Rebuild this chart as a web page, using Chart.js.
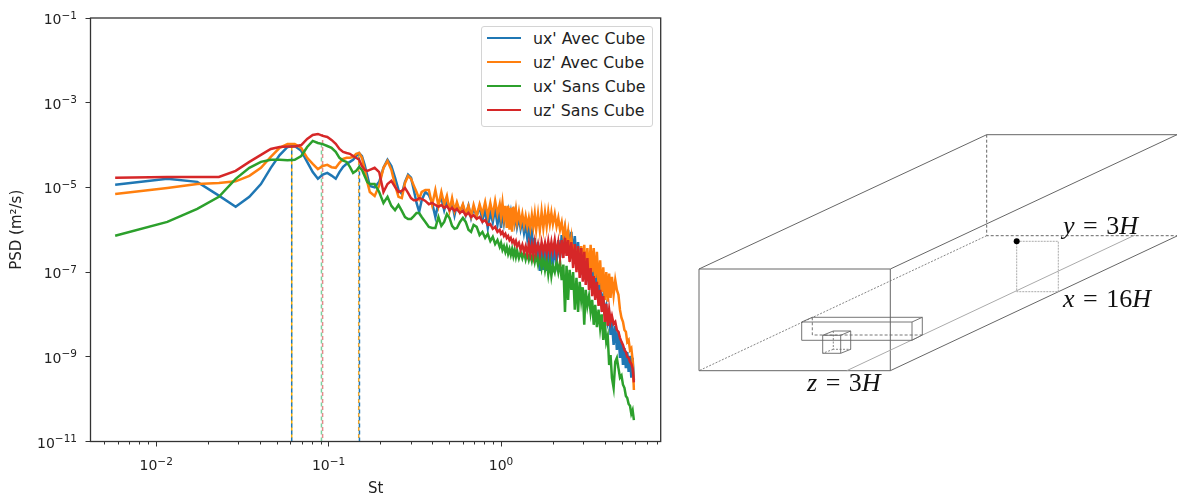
<!DOCTYPE html>
<html>
<head>
<meta charset="utf-8">
<title>PSD</title>
<script src="https://cdn.jsdelivr.net/npm/chart.js@4"></script>
<style>
  body { margin: 0; background: #fff; }
  #wrap { position: relative; width: 1177px; height: 495px; overflow: hidden; font-family: "DejaVu Sans", sans-serif; filter: blur(0.4px); }
  #psdChart { position: absolute; left: 0; top: 0; }
  #legend { position: absolute; left: 481px; top: 26px; width: 170px; height: 99px; border: 1px solid #d4d4d4; border-radius: 3px; background: #fff; }
  #legend div { position: absolute; left: 51px; font-size: 15.8px; line-height: 18px; color: #222; white-space: nowrap; }
  #legend i { position: absolute; left: 5px; width: 34px; height: 2px; }
  #schema { position: absolute; left: 0; top: 0; }
  #schema text { font-family: "Liberation Serif", serif; font-size: 26px; word-spacing: 2px; fill: #111; }
  #schema tspan.v { font-style: italic; }
</style>
</head>
<body>
<div id="wrap">
  <canvas id="psdChart" width="680" height="495"></canvas>
  <div id="legend"></div>
  <svg id="schema" width="1177" height="495" fill="none" stroke="#666" stroke-width="1">
    <!-- canal -->
    <path d="M699 269H890.3V370.7H699Z M699 269L986.7 134.7H1177 M890.3 269L1177 134.7 M890.3 370.7L1177 236"/>
    <path d="M986.7 134.7V235.7H1177" stroke-dasharray="3 2"/>
    <path d="M986.7 235.7L699 370.7" stroke-dasharray="2 1.5" stroke-width="0.8"/>
    <path d="M846.7 370.7L1135 235" stroke="#aaa"/>
    <!-- plan de mesure -->
    <path d="M1016.7 241.3H1058.3V291.7H1016.7Z" stroke="#aaa" stroke-dasharray="2 1"/>
    <circle cx="1016.7" cy="241.3" r="3" fill="#000" stroke="none"/>
    <!-- rangee de cubes -->
    <path d="M801.7 322H912V340.3H801.7Z M801.7 322L812.3 317.3H922.3V335L912 340.3 M912 322L922.3 317.3" stroke-width="0.9"/>
    <path d="M812.3 317.3V335H922.3" stroke-dasharray="3 2" stroke-width="0.9"/>
    <!-- cube -->
    <path d="M822.7 335.3H840.7V353.3H822.7Z M822.7 335.3L833.3 331H850.7V349.3L840.7 353.3 M840.7 335.3L850.7 331" stroke-width="0.9"/>
    <path d="M833.3 331V349.3H850.7 M833.3 349.3L822.7 353.3" stroke-dasharray="2 1.5" stroke-width="0.8"/>
    <text x="1063" y="234" stroke="none"><tspan class="v">y</tspan> = 3<tspan class="v">H</tspan></text>
    <text x="1063" y="307" stroke="none"><tspan class="v">x</tspan> = 16<tspan class="v">H</tspan></text>
    <text x="807" y="391" stroke="none"><tspan class="v">z</tspan> = 3<tspan class="v">H</tspan></text>
  </svg>
</div>
<script>
const seriesNames = ["ux' Avec Cube", "uz' Avec Cube", "ux' Sans Cube", "uz' Sans Cube"];
const seriesColors = ["#1f77b4", "#ff7f0e", "#2ca02c", "#d62728"];

const st = [
  .00578, .0116, .0173, .0231, .0289, .0347, .0405, .0462, .052, .0578,
  .0636, .0694, .0751, .0809, .0867, .0925, .0983, .104, .11, .1156,
  .1214, .1272, .1329, .1387, .1445, .1503, .1561, .1618, .1676, .1734,
  .185, .1965, .2081, .2196, .2312, .2428, .2543, .2659, .2774, .289,
  .3006, .3121, .3237, .3352, .3468, .3641, .3815, .3988, .4162, .4335,
  .4508, .4682, .4855, .5029, .5202, .5375, .5549, .578, .6011, .6242,
  .6474, .6705, .6936, .7225, .7514, .7803, .8092, .8381, .867, .8959,
  .9248, .9537, .9826, 1, 1.02, 1.04, 1.06, 1.08, 1.1, 1.12,
  1.14, 1.16, 1.18, 1.2, 1.22, 1.24, 1.27, 1.3, 1.33, 1.36,
  1.39, 1.42, 1.45, 1.48, 1.51, 1.54, 1.57, 1.6, 1.64, 1.68,
  1.72, 1.76, 1.8, 1.84, 1.88, 1.92, 1.96, 2, 2.05, 2.1,
  2.15, 2.2, 2.25, 2.3, 2.35, 2.4, 2.45, 2.5, 2.56, 2.62,
  2.68, 2.74, 2.8, 2.86, 2.92, 2.98, 3.04, 3.1, 3.17, 3.24,
  3.31, 3.38, 3.45, 3.52, 3.6, 3.68, 3.76, 3.84, 3.92, 4,
  4.08, 4.16, 4.24, 4.32, 4.4, 4.5, 4.6, 4.7, 4.8, 4.9,
  5, 5.1, 5.2, 5.3, 5.4, 5.5, 5.6, 5.7, 5.8, 5.9
];

const uxAvec = [
  1.16e-5, 1.59e-5, 1.35e-5, 6.4e-6, 3.5e-6, 6e-6, 1.2e-5, 2.9e-5, 5.8e-5, 9e-5,
  9.5e-5, 7.3e-5, 4e-5, 2.3e-5, 1.6e-5, 2e-5, 2.2e-5, 1.9e-5, 1.6e-5, 2.3e-5,
  3.05e-5, 3.6e-5, 4e-5, 4.5e-5, 5.5e-5, 6.5e-5, 5.5e-5, 3.4e-5, 1.9e-5, 1.08e-5,
  1e-5, 1.35e-5, 2.9e-5, 4.5e-5, 3.2e-5, 1.7e-5, 8.7e-6, 7e-6, 1.35e-5, 2e-5,
  1.7e-5, 8.7e-6, 4.3e-6, 2.65e-6, 5e-6, 7.8e-6, 6.6e-6, 4.3e-6, 2e-6, 4.3e-6,
  5.6e-6, 2.9e-6, 5e-6, 2.9e-6, 4.3e-6, 2.2e-6, 4e-6, 2.65e-6, 3.8e-6, 2.2e-6,
  3.7e-6, 1.9e-6, 3.2e-6, 2.1e-6, 3.5e-6, 1.7e-6, 2.9e-6, 1.1e-6, 2.65e-6, 1.5e-6,
  3.2e-6, 1.3e-6, 2.65e-6, 1.1e-6, 2.9e-6, 1.5e-6, 2.65e-6, 2.1e-6, 2.9e-6, 1.8e-6,
  2.65e-6, 1.6e-6, 2.4e-6, 1.45e-6, 2.4e-6, 1.2e-6, 2e-6, 1.05e-6, 1.7e-6, 8.4e-7,
  1.37e-6, 6.4e-7, 1.1e-6, 4.6e-7, 8.4e-7, 3e-7, 6.4e-7, 1.75e-7, 5.1e-7, 1.07e-7,
  4.4e-7, 1.13e-7, 3.35e-7, 1.07e-7, 3.35e-7, 1.25e-7, 3e-7, 1.5e-7, 3.35e-7, 1.75e-7,
  5.7e-7, 2.15e-7, 7.5e-7, 3.35e-7, 8.9e-7, 4.4e-7, 1e-6, 3.7e-7, 8.9e-7, 2.55e-7,
  7.1e-7, 1.75e-7, 5.1e-7, 1.25e-7, 3.7e-7, 8.6e-8, 3e-7, 6.5e-8, 2.15e-7, 5e-8,
  1.75e-7, 5e-8, 1.4e-7, 3.4e-8, 1e-7, 2.45e-8, 5.9e-8, 1.77e-8, 2.7e-8, 1.15e-8,
  1.6e-8, 6.7e-9, 9.7e-9, 3.3e-9, 6.7e-9, 1.9e-9, 5.4e-9, 1.45e-9, 3.9e-9, 9.4e-10,
  2.25e-9, 6.4e-10, 1.6e-9, 5.4e-10, 1.3e-9, 4.4e-10, 1.05e-9, 3.2e-10, 9.4e-10, 2.8e-10
];

const uzAvec = [
  7e-6, 9.7e-6, 1.2e-5, 1.27e-5, 1.39e-5, 1.87e-5, 2.9e-5, 5.25e-5, 8.6e-5, 1.06e-4,
  1.06e-4, 8.6e-5, 5e-5, 3.6e-5, 2.7e-5, 3.2e-5, 3.4e-5, 3e-5, 2.9e-5, 3.8e-5,
  4.7e-5, 5e-5, 5e-5, 5.25e-5, 6.2e-5, 6.5e-5, 5e-5, 2.6e-5, 1.35e-5, 7.8e-6,
  6.3e-6, 1.1e-5, 2.9e-5, 4.2e-5, 2.6e-5, 1.15e-5, 6e-6, 5.6e-6, 1.27e-5, 1.87e-5,
  1.6e-5, 1.1e-5, 7.8e-6, 5.35e-6, 7.8e-6, 8.7e-6, 8.7e-6, 3.85e-6, 8.7e-6, 3.65e-6,
  7.8e-6, 4e-6, 6.3e-6, 2.9e-6, 5.6e-6, 2.8e-6, 4.5e-6, 2.65e-6, 4e-6, 2.35e-6,
  3.65e-6, 2.1e-6, 3.85e-6, 2.1e-6, 4e-6, 2.35e-6, 4.5e-6, 2.1e-6, 4.3e-6, 2.2e-6,
  4.8e-6, 2.35e-6, 4e-6, 2.1e-6, 4.3e-6, 1.9e-6, 3.65e-6, 1.1e-6, 3.65e-6, 1e-6,
  3.3e-6, 9e-7, 3.5e-6, 1.7e-6, 2.9e-6, 1.5e-6, 2.65e-6, 1.37e-6, 2.35e-6, 1.3e-6,
  2.1e-6, 1.2e-6, 1.9e-6, 1.1e-6, 2.2e-6, 1.2e-6, 2.35e-6, 1e-6, 2.35e-6, 9.7e-7,
  2.65e-6, 1.1e-6, 2.5e-6, 1.2e-6, 2.65e-6, 1.37e-6, 2.5e-6, 1.37e-6, 2.35e-6, 1.2e-6,
  1.9e-6, 1e-6, 1.5e-6, 7.5e-7, 1.2e-6, 5.1e-7, 8.9e-7, 3e-7, 6.4e-7, 2.15e-7,
  4.6e-7, 1.13e-7, 3.7e-7, 1e-7, 4.1e-7, 9.5e-8, 4.4e-7, 9.5e-8, 3.7e-7, 8.6e-8,
  4.4e-7, 1e-7, 3.7e-7, 7.3e-8, 3e-7, 5e-8, 1.9e-7, 3.4e-8, 1.3e-7, 2.2e-8,
  1e-7, 2e-8, 9.2e-8, 2.45e-8, 7.7e-8, 2.9e-8, 6.5e-8, 3.8e-8, 2.9e-8, 1.28e-8,
  8.3e-9, 6.7e-9, 4.3e-9, 3.9e-9, 2.25e-9, 2.5e-9, 1.45e-9, 1.6e-9, 8.5e-10, 1.65e-10
];

const uxSans = [
  7.2e-7, 1.53e-6, 3.1e-6, 6e-6, 1.59e-5, 2.9e-5, 4e-5, 4.5e-5, 4.5e-5, 4.4e-5,
  4.5e-5, 5.5e-5, 9e-5, 1.25e-4, 1.12e-4, 1.05e-4, 9.5e-5, 8.6e-5, 6.9e-5, 5e-5,
  4.3e-5, 4e-5, 3.05e-5, 2.2e-5, 2.45e-5, 3.05e-5, 2.6e-5, 1.87e-5, 1.35e-5, 1.2e-5,
  1.2e-5, 7.8e-6, 4.3e-6, 6e-6, 3.65e-6, 2.9e-6, 3.85e-6, 2.8e-6, 2e-6, 1.8e-6,
  1.8e-6, 2.1e-6, 2.5e-6, 2.5e-6, 2e-6, 1.53e-6, 1.17e-6, 1.1e-6, 1.1e-6, 2e-6,
  1.24e-6, 1.53e-6, 2.35e-6, 1.9e-6, 1.24e-6, 1.05e-6, 1.1e-6, 1.53e-6, 1.9e-6, 1.53e-6,
  1e-6, 8.9e-7, 1.3e-6, 1.17e-6, 7.5e-7, 8.9e-7, 6.4e-7, 8e-7, 5.4e-7, 6.8e-7,
  4.6e-7, 5.7e-7, 3.95e-7, 4.9e-7, 3.35e-7, 4.1e-7, 3e-7, 3.95e-7, 2.7e-7, 3.5e-7,
  2.55e-7, 3.5e-7, 2.4e-7, 3.35e-7, 2.3e-7, 3.2e-7, 2.15e-7, 3e-7, 2.15e-7, 3e-7,
  2e-7, 2.85e-7, 1.95e-7, 2.7e-7, 1.85e-7, 2.7e-7, 1.75e-7, 2.55e-7, 1.5e-7, 2.4e-7,
  1.25e-7, 2.15e-7, 1.13e-7, 1.95e-7, 9e-8, 1.75e-7, 8.1e-8, 1.4e-7, 1e-7, 1.75e-7,
  1e-7, 1.75e-7, 6.5e-8, 1.5e-7, 1.15e-8, 1.4e-7, 2.2e-8, 1.13e-7, 3.8e-8, 1e-7,
  1.3e-8, 7.3e-8, 1.15e-8, 5.9e-8, 2.2e-8, 4.4e-8, 5.7e-9, 3.8e-8, 1.6e-8, 2.7e-8,
  1.15e-8, 2.2e-8, 5.7e-9, 1.68e-8, 5e-9, 1.3e-8, 4.8e-9, 1e-8, 2.5e-9, 6.7e-9,
  2.25e-9, 3.1e-9, 6.4e-10, 1.1e-9, 3.2e-10, 1.85e-10, 7.6e-10, 9.4e-10, 5.4e-10, 3.2e-10,
  3.6e-10, 2.2e-10, 1.85e-10, 1.19e-10, 1.07e-10, 7.7e-11, 7e-11, 4.5e-11, 5.5e-11, 3.2e-11
];

const uzSans = [
  1.68e-5, 1.75e-5, 1.77e-5, 1.77e-5, 2.45e-5, 4e-5, 5.85e-5, 8.1e-5, 9e-5, 9.2e-5,
  9.2e-5, 1e-4, 1.4e-4, 1.73e-4, 1.83e-4, 1.65e-4, 1.55e-4, 1.32e-4, 1.07e-4, 8.1e-5,
  6.9e-5, 6.5e-5, 6.2e-5, 5.5e-5, 5e-5, 4.5e-5, 3.2e-5, 2.6e-5, 2.45e-5, 2.6e-5,
  2.9e-5, 2.3e-5, 7.8e-6, 1.2e-5, 1.43e-5, 1.03e-5, 7.8e-6, 8.3e-6, 9.7e-6, 7.4e-6,
  5.6e-6, 5e-6, 5e-6, 5.6e-6, 5.35e-6, 4.8e-6, 4e-6, 4.3e-6, 3.85e-6, 3.5e-6,
  3.85e-6, 3.3e-6, 3.65e-6, 2.9e-6, 3.3e-6, 2.8e-6, 3.1e-6, 2.5e-6, 2.8e-6, 2.2e-6,
  2.5e-6, 2e-6, 2.2e-6, 1.8e-6, 2e-6, 1.53e-6, 1.7e-6, 1.3e-6, 1.37e-6, 1.05e-6,
  1.17e-6, 8.9e-7, 1e-6, 8e-7, 8.9e-7, 7.1e-7, 8e-7, 6.4e-7, 7.1e-7, 5.7e-7,
  6.4e-7, 5.1e-7, 5.7e-7, 4.6e-7, 5.4e-7, 4.1e-7, 4.9e-7, 3.35e-7, 4.4e-7, 3e-7,
  4.1e-7, 2.7e-7, 4.6e-7, 2.7e-7, 4.4e-7, 2.55e-7, 4.9e-7, 2.85e-7, 4.6e-7, 2.7e-7,
  5.1e-7, 3e-7, 4.9e-7, 2.85e-7, 5.4e-7, 3e-7, 5.1e-7, 3e-7, 5.7e-7, 2.7e-7,
  5.1e-7, 2.4e-7, 5.7e-7, 2.15e-7, 6.4e-7, 2.4e-7, 5.7e-7, 1.75e-7, 5.1e-7, 1.25e-7,
  4.6e-7, 1e-7, 4.1e-7, 7.3e-8, 3.7e-7, 5.9e-8, 3e-7, 5e-8, 2.15e-7, 3.8e-8,
  1.25e-7, 2.7e-8, 8.1e-8, 2.2e-8, 5.9e-8, 1.6e-8, 3.8e-8, 1.15e-8, 2.7e-8, 6.7e-9,
  1.77e-8, 5.4e-9, 1.28e-8, 6.7e-9, 9.2e-9, 6e-9, 6.7e-9, 4.3e-9, 3.9e-9, 2.8e-9,
  2.25e-9, 1.9e-9, 1.45e-9, 1.3e-9, 1e-9, 9.4e-10, 7.6e-10, 6.8e-10, 5.4e-10, 2.5e-10
];

const seriesValues = [uxAvec, uzAvec, uxSans, uzSans];

// traits verticaux aux St de pic
const peakSt = [.0611, .0611, .151, .1495, .0909, .0923];
const peakTop = [1.06e-4, 9.5e-5, 6.5e-5, 6.5e-5, 1.25e-4, 1.83e-4];
const peakColors = ["#1f77b4", "#ffb000", "#1f77b4", "#f5a623", "#7fcf9f", "#e58a8b"];

const xTicks = [1e-2, 1e-1, 1];
const xMinorTicks = [
  .005, .006, .007, .008, .009,
  .02, .03, .04, .05, .06, .07, .08, .09,
  .2, .3, .4, .5, .6, .7, .8, .9,
  2, 3, 4, 5, 6, 7, 8
];
const yTicks = [1e-1, 1e-3, 1e-5, 1e-7, 1e-9, 1e-11];

// "10" puis l'exposant plus petit et releve, comme mathtext
function drawPowerLabel(ctx, value, x, baseline, align) {
  const power = Math.round(Math.log10(value));
  const expText = power === 0 ? "0" : "\u2212" + Math.abs(power);
  ctx.font = '14px "DejaVu Sans"';
  const baseWidth = ctx.measureText("10").width;
  ctx.font = '10.5px "DejaVu Sans"';
  const expWidth = ctx.measureText(expText).width;
  const total = baseWidth + expWidth;
  const start = align === "right" ? x - total : x - total / 2;
  ctx.textAlign = "left";
  ctx.font = '14px "DejaVu Sans"';
  ctx.fillText("10", start, baseline);
  ctx.font = '10.5px "DejaVu Sans"';
  ctx.fillText(expText, start + baseWidth, baseline - 5.5);
}

// cadre complet, petits ticks et libelles en puissance, que Chart.js ne sait pas faire seul
const framePlugin = {
  id: "frame",
  afterDraw(chart) {
    const { ctx, chartArea, scales } = chart;
    ctx.save();
    ctx.strokeStyle = "#333";
    ctx.lineWidth = 1;
    xMinorTicks.forEach(v => {
      const px = Math.round(scales.x.getPixelForValue(v)) + 0.5;
      ctx.beginPath();
      ctx.moveTo(px, chartArea.bottom);
      ctx.lineTo(px, chartArea.bottom + 3);
      ctx.stroke();
    });
    ctx.lineWidth = 1.3;
    ctx.strokeRect(chartArea.left, chartArea.top, chartArea.width, chartArea.height);
    ctx.fillStyle = "#222";
    ctx.textBaseline = "alphabetic";
    xTicks.forEach(v => drawPowerLabel(ctx, v, scales.x.getPixelForValue(v), 470, "center"));
    yTicks.forEach(v => drawPowerLabel(ctx, v, 77, scales.y.getPixelForValue(v) + 6, "right"));
    ctx.restore();
  }
};

const datasets = seriesNames.map((name, i) => ({
  label: name,
  data: st.map((x, j) => ({ x: x, y: seriesValues[i][j] })),
  borderColor: seriesColors[i],
  borderWidth: 2.5,
  pointRadius: 0,
  tension: 0,
  order: 4 - i
}));

peakSt.forEach((x, i) => {
  datasets.push({
    label: "pic " + i,
    data: [{ x: x, y: 1e-11 }, { x: x, y: peakTop[i] }],
    borderColor: peakColors[i],
    borderWidth: 1.5,
    borderDash: [4, 3],
    borderDashOffset: i % 2 ? 3.5 : 0,
    pointRadius: 0,
    order: 5
  });
});

new Chart(document.getElementById("psdChart").getContext("2d"), {
  type: "line",
  data: { datasets: datasets },
  plugins: [framePlugin],
  options: {
    responsive: false,
    animation: false,
    layout: { padding: { top: 18, right: 19.3, left: 0, bottom: 0 } },
    plugins: { legend: { display: false }, tooltip: { enabled: false } },
    scales: {
      x: {
        type: "logarithmic",
        min: .004158,
        max: 8.44,
        afterFit: s => { s.height = 53.5; },
        afterBuildTicks: s => { s.ticks = xTicks.map(v => ({ value: v, major: true })); },
        grid: { drawOnChartArea: false, tickLength: 5, tickColor: "#333" },
        border: { color: "#333" },
        ticks: { display: false, autoSkip: false },
        title: { display: true, text: "St", color: "#222", font: { family: "DejaVu Sans", size: 15 }, padding: { top: 0, bottom: -3 } }
      },
      y: {
        type: "logarithmic",
        min: 1e-11,
        max: 1e-1,
        afterFit: s => { s.width = 90.5; },
        afterBuildTicks: s => { s.ticks = yTicks.map(v => ({ value: v, major: true })); },
        grid: { drawOnChartArea: false, tickLength: 5, tickColor: "#333" },
        border: { color: "#333" },
        ticks: { display: false, autoSkip: false },
        title: { display: true, text: "PSD (m²/s)", color: "#222", font: { family: "DejaVu Sans", size: 15 }, padding: { top: 8, bottom: 0 } }
      }
    }
  }
});

// legende dans le cadre, en haut a droite
const legendBox = document.getElementById("legend");
const legendTop = [3, 27, 51, 75];
seriesNames.forEach((name, i) => {
  const row = document.createElement("div");
  row.textContent = name;
  row.style.top = legendTop[i] + "px";
  legendBox.appendChild(row);
  const line = document.createElement("i");
  line.style.top = (legendTop[i] + 7) + "px";
  line.style.background = seriesColors[i];
  legendBox.appendChild(line);
});
</script>
</body>
</html>
